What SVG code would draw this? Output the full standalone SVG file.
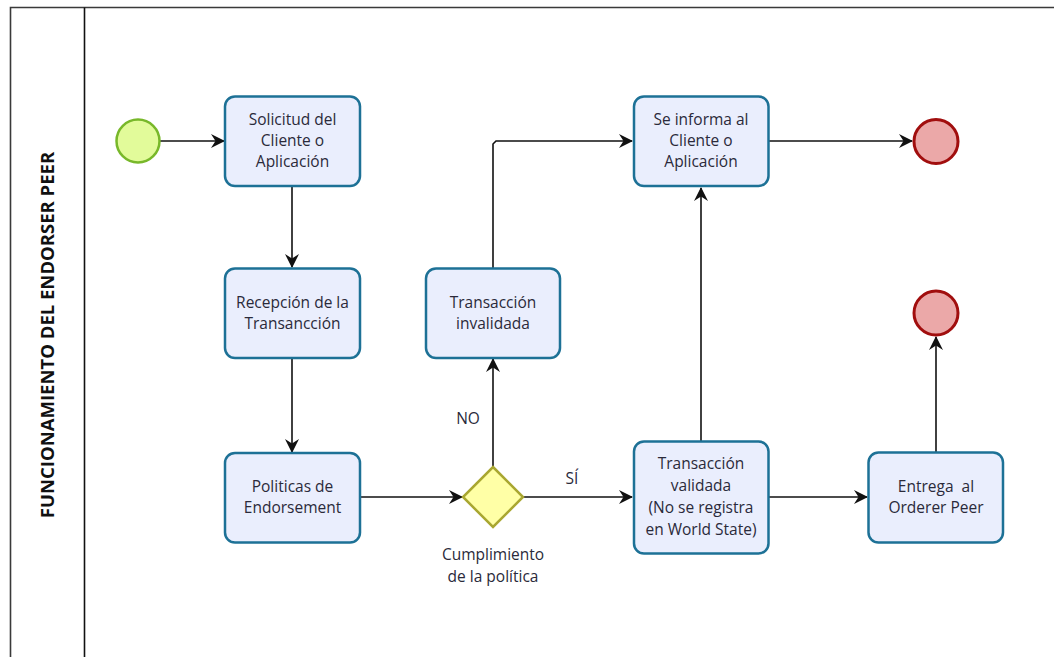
<svg xmlns="http://www.w3.org/2000/svg" width="1054" height="657" viewBox="0 0 1054 657">
  <style>
    .task rect { fill: #eaeefd; stroke: #1d7196; stroke-width: 2.5; }
    .lbl { font-family: "Open Sans", "Noto Sans", sans-serif; font-size: 15.5px; fill: #2a2a3a; text-anchor: middle; }
    .edge { fill: none; stroke: #111; stroke-width: 1.6; marker-end: url(#arrow); }
    .start circle { fill: #e2fb9a; stroke: #78b82a; stroke-width: 2.5; }
    .end circle { fill: #eba8a8; stroke: #a10e0e; stroke-width: 3; }
    .gw polygon { fill: #ffffa6; stroke: #a9a731; stroke-width: 2.5; }
  </style>
  <defs>
    <marker id="arrow" viewBox="0 0 14 14" refX="13" refY="7" markerWidth="14" markerHeight="14" markerUnits="userSpaceOnUse" orient="auto">
      <path d="M0,0 L14,7 L0,14 L4.5,7 Z" fill="#111"/>
    </marker>
  </defs>

  <rect width="1054" height="657" fill="#ffffff"/>

  <!-- pool and lane -->
  <g id="pool">
    <path d="M1054,7.5 H10.5 V657" fill="none" stroke="#3a3a3a" stroke-width="1.6"/>
    <line x1="84.5" y1="7.5" x2="84.5" y2="657" stroke="#111" stroke-width="1.6"/>
    <text x="0" y="0" transform="translate(54,335) rotate(-90)" font-family="Open Sans, Noto Sans, sans-serif" font-size="18.5" font-weight="bold" fill="#111" text-anchor="middle">FUNCIONAMIENTO DEL ENDORSER PEER</text>
  </g>

  <!-- connectors -->
  <g id="connectors">
    <path class="edge" d="M160,141 H224"/>
    <path class="edge" d="M292,186 V267"/>
    <path class="edge" d="M292,358 V452"/>
    <path class="edge" d="M360,497 H462"/>
    <path class="edge" d="M523,497 H632"/>
    <path class="edge" d="M493,467 V359"/>
    <path class="edge" d="M493,268 V144 L496,141 H632"/>
    <path class="edge" d="M701,441 V188"/>
    <path class="edge" d="M769,141 H912"/>
    <path class="edge" d="M769,497 H867"/>
    <path class="edge" d="M936,452 V337"/>
    <text class="lbl" x="468" y="424">NO</text>
    <text class="lbl" x="572" y="484">SÍ</text>
  </g>

  <g id="start" class="start"><circle cx="138" cy="141" r="21.5"/></g>

  <g id="solicitud" class="task">
    <rect x="225" y="96.5" width="135" height="89.5" rx="10"/>
    <text class="lbl" x="292.5" y="125">Solicitud del</text>
    <text class="lbl" x="292.5" y="146">Cliente o</text>
    <text class="lbl" x="292.5" y="167">Aplicación</text>
  </g>

  <g id="recepcion" class="task">
    <rect x="225" y="268.5" width="135" height="89.5" rx="10"/>
    <text class="lbl" x="292.5" y="308">Recepción de la</text>
    <text class="lbl" x="292.5" y="329">Transancción</text>
  </g>

  <g id="politicas" class="task">
    <rect x="225" y="453" width="135" height="89.5" rx="10"/>
    <text class="lbl" x="292.5" y="492">Politicas de</text>
    <text class="lbl" x="292.5" y="513">Endorsement</text>
  </g>

  <g id="gateway" class="gw">
    <polygon points="493,467 523,497 493,527 463,497"/>
    <text class="lbl" x="493" y="560">Cumplimiento</text>
    <text class="lbl" x="493" y="582">de la política</text>
  </g>

  <g id="invalidada" class="task">
    <rect x="426" y="268.5" width="134" height="89.5" rx="10"/>
    <text class="lbl" x="493" y="308">Transacción</text>
    <text class="lbl" x="493" y="329">invalidada</text>
  </g>

  <g id="informa" class="task">
    <rect x="634" y="96.5" width="134.5" height="89.5" rx="10"/>
    <text class="lbl" x="701" y="125">Se informa al</text>
    <text class="lbl" x="701" y="146">Cliente o</text>
    <text class="lbl" x="701" y="167">Aplicación</text>
  </g>

  <g id="validada" class="task">
    <rect x="634" y="441.5" width="134.5" height="112" rx="10"/>
    <text class="lbl" x="701" y="469">Transacción</text>
    <text class="lbl" x="701" y="491">validada</text>
    <text class="lbl" x="701" y="513">(No se registra</text>
    <text class="lbl" x="701" y="535">en World State)</text>
  </g>

  <g id="entrega" class="task">
    <rect x="868.5" y="452.5" width="134.5" height="90" rx="10"/>
    <text class="lbl" x="936" y="492" xml:space="preserve">Entrega  al</text>
    <text class="lbl" x="936" y="513">Orderer Peer</text>
  </g>

  <g id="end-top" class="end"><circle cx="936" cy="141.5" r="22"/></g>
  <g id="end-bottom" class="end"><circle cx="936" cy="313" r="22"/></g>
</svg>
